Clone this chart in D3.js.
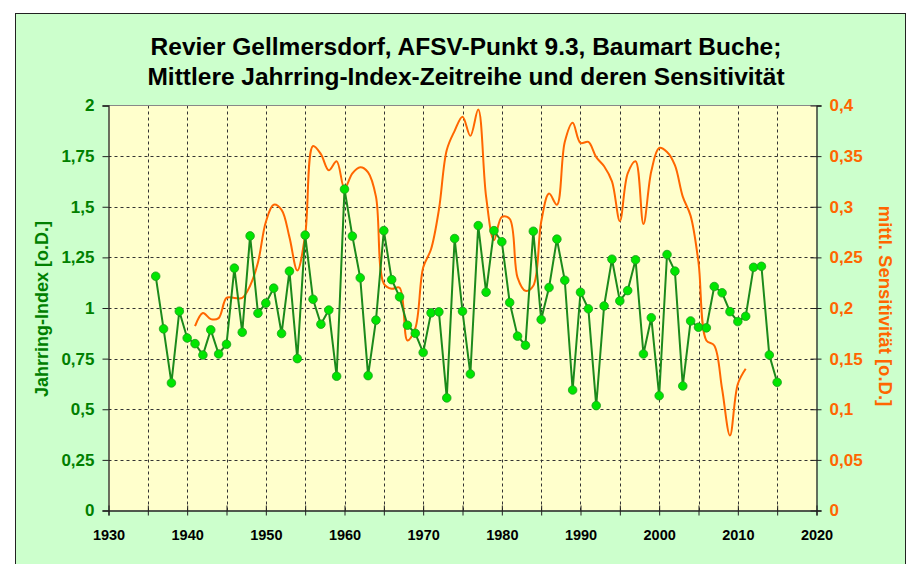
<!DOCTYPE html>
<html>
<head>
<meta charset="utf-8">
<script src="https://cdn.jsdelivr.net/npm/d3@7"></script>
<style>
  body { margin: 0; background: #fff; }
  .chart-container { width: 919px; height: 564px; }
  text { font-family: "Liberation Sans", Arial, sans-serif; font-weight: bold; }
</style>
</head>
<body>
<div class="chart-container"></div>
<script>
const indexYears = d3.range(1936, 2016);
const indexValues = [
  1.157, 0.897, 0.63, 0.984, 0.852, 0.824, 0.768, 0.892, 0.773, 0.821,
  1.197, 0.880, 1.356, 0.974, 1.024, 1.098, 0.874, 1.182, 0.75, 1.36,
  1.043, 0.92, 0.99, 0.663, 1.587, 1.355, 1.149, 0.666, 0.94, 1.382,
  1.140, 1.055, 0.915, 0.875, 0.78, 0.976, 0.981, 0.556, 1.343, 0.984,
  0.674, 1.407, 1.078, 1.382, 1.327, 1.027, 0.861, 0.816, 1.379, 0.943,
  1.101, 1.340, 1.137, 0.595, 1.078, 0.996, 0.518, 1.01, 1.241, 1.035,
  1.086, 1.238, 0.773, 0.952, 0.567, 1.264, 1.182, 0.615, 0.936, 0.905,
  0.902, 1.106, 1.075, 0.982, 0.933, 0.959, 1.201, 1.206, 0.768, 0.633
];

const sensYears = d3.range(1941, 2012);
const sensValues = [
  0.182, 0.195, 0.189, 0.19, 0.21, 0.21, 0.21, 0.222, 0.245, 0.285,
  0.302, 0.297, 0.27, 0.237, 0.272, 0.36, 0.352, 0.336, 0.345, 0.318,
  0.333, 0.339, 0.334, 0.31, 0.224, 0.219, 0.22, 0.168, 0.18, 0.24,
  0.258, 0.297, 0.356, 0.375, 0.389, 0.37, 0.396, 0.31, 0.267, 0.29,
  0.288, 0.23, 0.217, 0.222, 0.285, 0.313, 0.302, 0.364, 0.383, 0.363,
  0.364, 0.349, 0.340, 0.325, 0.286, 0.333, 0.345, 0.283, 0.335, 0.358,
  0.354, 0.341, 0.31, 0.291, 0.245, 0.168, 0.163, 0.12, 0.074, 0.125,
  0.14
];

const xTicks = d3.range(1930, 2021, 5);
const xGrid = d3.range(1935, 2020, 5);
const leftTicks = d3.range(0, 2.01, 0.25);
const rightTicks = d3.range(0, 0.401, 0.05);

const titleLines = [
  "Revier Gellmersdorf, AFSV-Punkt 9.3, Baumart Buche;",
  "Mittlere Jahrring-Index-Zeitreihe und deren Sensitivität"
];

const width = 919, height = 564;
const plot = { left: 108.5, right: 816.5, top: 105.5, bottom: 510.5 };
const green = "#008000", orange = "#ff6600";

const fmt = v => String(+v.toFixed(2)).replace(".", ",");

const svg = d3.select(".chart-container").append("svg")
  .attr("width", width)
  .attr("height", height);

// outer chart area
svg.append("rect")
  .attr("x", 15.5).attr("y", 13.5)
  .attr("width", 890).attr("height", 570)
  .attr("fill", "#ccffcc")
  .attr("stroke", "#222");

const x = d3.scaleLinear().domain([1930, 2020]).range([plot.left, plot.right]);
const yL = d3.scaleLinear().domain([0, 2]).range([plot.bottom, plot.top]);
const yR = d3.scaleLinear().domain([0, 0.4]).range([plot.bottom, plot.top]);

svg.append("rect")
  .attr("x", plot.left).attr("y", plot.top)
  .attr("width", plot.right - plot.left).attr("height", plot.bottom - plot.top)
  .attr("fill", "#ffffcc");

// grid
const grid = svg.append("g").attr("class", "grid")
  .attr("stroke", "#333").attr("stroke-dasharray", "3,3").attr("stroke-width", 1);

grid.selectAll(".hgrid")
  .data(leftTicks.filter(d => d > 0 && d < 2))
  .enter().append("line")
  .attr("x1", plot.left).attr("x2", plot.right)
  .attr("y1", d => Math.round(yL(d)) + 0.5).attr("y2", d => Math.round(yL(d)) + 0.5);

grid.selectAll(".vgrid")
  .data(xGrid)
  .enter().append("line")
  .attr("x1", d => Math.round(x(d)) + 0.5).attr("x2", d => Math.round(x(d)) + 0.5)
  .attr("y1", plot.top).attr("y2", plot.bottom);

// top border
svg.append("line")
  .attr("x1", plot.left).attr("x2", plot.right)
  .attr("y1", plot.top).attr("y2", plot.top)
  .attr("stroke", "#888");

// axes
const leftAxis = svg.append("g")
  .attr("transform", `translate(${plot.left},0)`)
  .call(d3.axisLeft(yL).tickValues(leftTicks).tickFormat(fmt).tickSize(6).tickPadding(8));

const rightAxis = svg.append("g")
  .attr("transform", `translate(${plot.right},0)`)
  .call(d3.axisRight(yR).tickValues(rightTicks).tickFormat(fmt).tickSize(5).tickPadding(8));

const bottomAxis = svg.append("g")
  .attr("transform", `translate(0,${plot.bottom})`)
  .call(d3.axisBottom(x).tickValues(xTicks)
    .tickFormat(d => d % 10 === 0 ? d : "").tickSize(5).tickPadding(14));

[leftAxis, rightAxis, bottomAxis].forEach(a => {
  a.select(".domain").attr("stroke", "#222").attr("stroke-width", 1.3);
  a.selectAll(".tick line").attr("stroke", "#222");
  a.selectAll("text").attr("font-size", 17).attr("font-family", null);
});

leftAxis.selectAll("text").attr("fill", green);
rightAxis.selectAll("text").attr("fill", orange);
bottomAxis.selectAll("text").attr("fill", "#000").attr("font-size", 14.5);

// right ticks reach into plot a little
rightAxis.selectAll(".tick line").attr("x1", -6);
bottomAxis.selectAll(".tick line").attr("y1", -5);

// sensitivity line
const sensData = sensYears.map((yr, i) => ({ year: yr, value: sensValues[i] }));
svg.append("path")
  .datum(sensData)
  .attr("fill", "none")
  .attr("stroke", orange)
  .attr("stroke-width", 2)
  .attr("d", d3.line()
    .x(d => x(d.year))
    .y(d => yR(d.value))
    .curve(d3.curveCatmullRom.alpha(0.5)));

// index series
const indexData = indexYears.map((yr, i) => ({ year: yr, value: indexValues[i] }));
svg.append("path")
  .datum(indexData)
  .attr("fill", "none")
  .attr("stroke", "#1b8a1b")
  .attr("stroke-width", 2)
  .attr("d", d3.line().x(d => x(d.year)).y(d => yL(d.value)));

svg.append("g").selectAll("circle")
  .data(indexData)
  .enter().append("circle")
  .attr("cx", d => x(d.year))
  .attr("cy", d => yL(d.value))
  .attr("r", 4.3)
  .attr("fill", "#00e600")
  .attr("stroke", "#1f9a1f")
  .attr("stroke-width", 0.8);

// titles
svg.append("g").selectAll("text")
  .data(titleLines)
  .enter().append("text")
  .attr("x", 466)
  .attr("y", (d, i) => 55 + i * 30)
  .attr("text-anchor", "middle")
  .attr("font-size", 24.5)
  .attr("fill", "#000")
  .text(d => d);

svg.append("text")
  .attr("transform", `translate(48,${309}) rotate(-90)`)
  .attr("text-anchor", "middle")
  .attr("font-size", 18)
  .attr("fill", green)
  .text("Jahrring-Index [o.D.]");

svg.append("text")
  .attr("transform", `translate(879,${306}) rotate(90)`)
  .attr("text-anchor", "middle")
  .attr("font-size", 18.5)
  .attr("fill", orange)
  .text("mittl. Sensitivität [o.D.]");
</script>
</body>
</html>
